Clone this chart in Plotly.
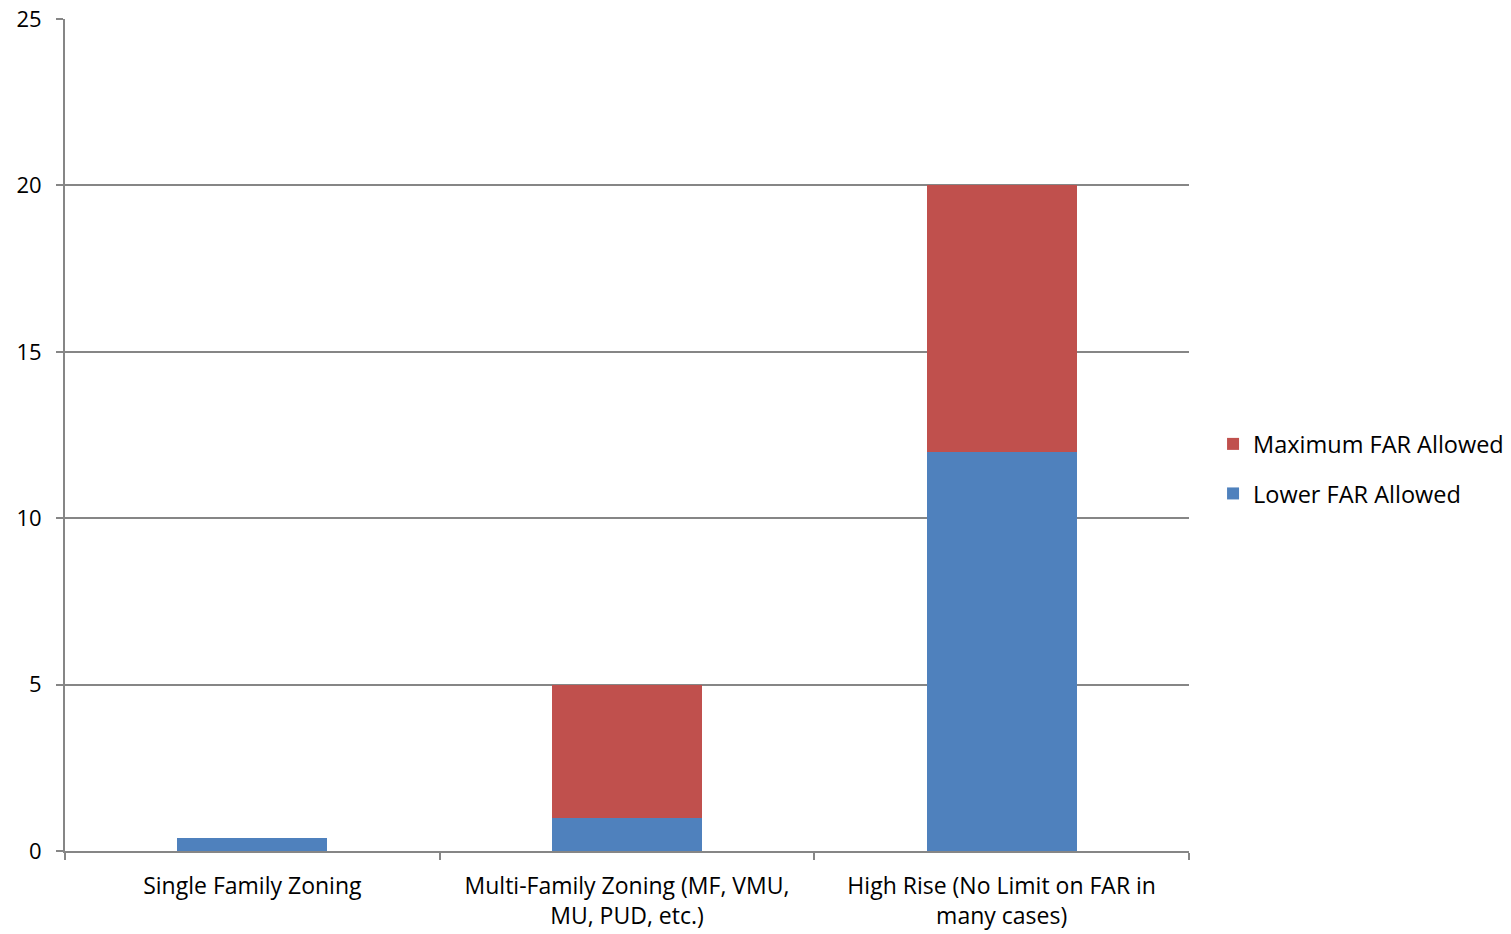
import plotly.graph_objects as go

categories = [
    "Single Family Zoning",
    "Multi-Family Zoning (MF, VMU,<br>MU, PUD, etc.)",
    "High Rise (No Limit on FAR in<br>many cases)",
]
lower_far = [0.4, 1, 12]
max_far_extra = [0, 4, 8]

FONT = "Open Sans"
FONT_SIZE = 23
AXIS_GRAY = "#868686"

fig = go.Figure()
fig.add_trace(go.Bar(
    x=categories, y=lower_far, name="Lower FAR Allowed",
    legendgroup="lower", legendrank=2,
    marker=dict(color="#4F81BD", line=dict(width=0)), width=0.4,
))
fig.add_trace(go.Bar(
    x=categories, y=max_far_extra, name="Maximum FAR Allowed",
    legendgroup="max", legendrank=1,
    marker=dict(color="#C0504D", line=dict(width=0)), width=0.4,
))

fig.update_layout(
    barmode="stack",
    width=1511, height=934,
    margin=dict(l=65, r=322, t=19, b=83, autoexpand=False),
    paper_bgcolor="white", plot_bgcolor="white",
    font=dict(family=FONT, size=FONT_SIZE, color="black"),
    showlegend=True,
    legend=dict(
        x=1.0214, y=0.459, xanchor="left", yanchor="middle",
        traceorder="grouped", font=dict(size=23.5),
        tracegroupgap=16,
    ),
    xaxis=dict(
        showline=True, linecolor=AXIS_GRAY, linewidth=2,
        ticks="outside", tickson="boundaries", ticklen=7,
        tickcolor=AXIS_GRAY, tickwidth=2,
        showgrid=False, tickfont=dict(size=FONT_SIZE),
        automargin=False, ticklabelstandoff=13,
    ),
    yaxis=dict(
        range=[0, 25], dtick=5,
        showline=True, linecolor=AXIS_GRAY, linewidth=2,
        ticks="outside", ticklen=7, tickcolor=AXIS_GRAY, tickwidth=2,
        showgrid=True, gridcolor=AXIS_GRAY, gridwidth=1.5,
        zeroline=False, tickfont=dict(size=22),
        ticklabelstandoff=10, automargin=False,
    ),
)

fig.write_html("out.html")
